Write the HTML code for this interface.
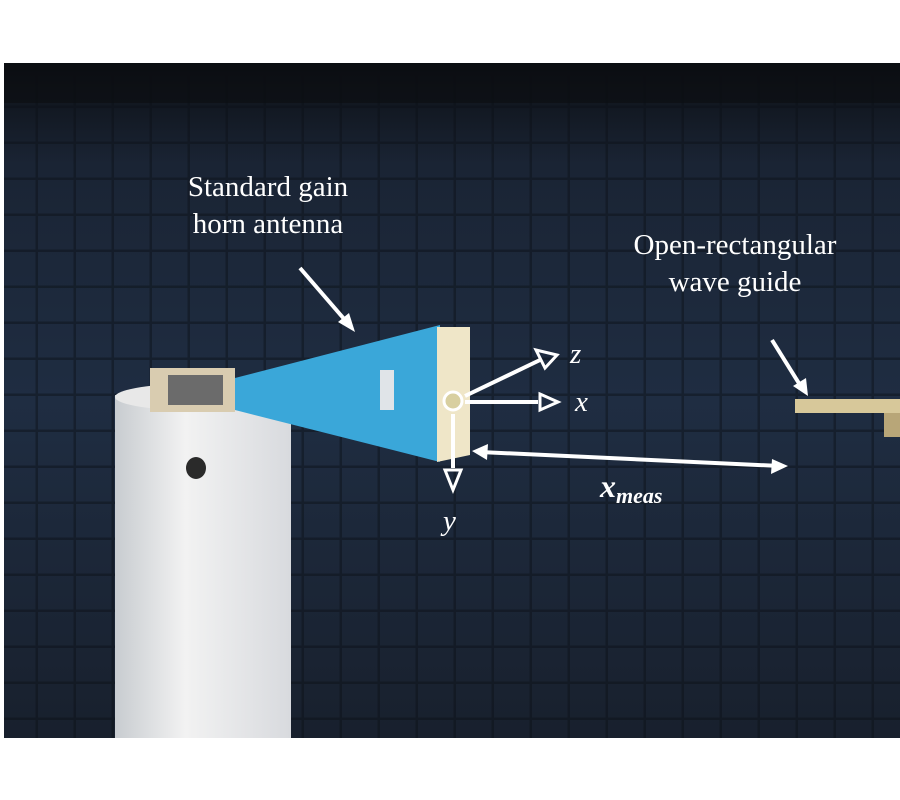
<!DOCTYPE html>
<html><head><style>body{margin:0;background:#fff}svg{display:block}</style></head><body>
<svg width="900" height="800" viewBox="0 0 900 800" xmlns="http://www.w3.org/2000/svg">
<defs>
<linearGradient id="bg" x1="0" y1="0" x2="0" y2="1">
<stop offset="0" stop-color="#0c0f14"/><stop offset="0.15" stop-color="#1a2434"/><stop offset="0.5" stop-color="#1f2d42"/><stop offset="1" stop-color="#18202d"/></linearGradient>
<pattern id="grid" width="38" height="36" patternUnits="userSpaceOnUse">
<rect width="38" height="36" fill="none"/><path d="M0 35 H38 M37 0 V36" stroke="#0a0e15" stroke-width="3" opacity="0.45"/></pattern>
<linearGradient id="cyl" x1="0" x2="1"><stop offset="0" stop-color="#c8ccd0"/><stop offset="0.4" stop-color="#f2f2f2"/><stop offset="1" stop-color="#d8dade"/></linearGradient>
</defs>
<rect x="4" y="63" width="896" height="675" fill="url(#bg)"/>
<rect x="4" y="63" width="896" height="675" fill="url(#grid)"/>
<rect x="4" y="63" width="896" height="40" fill="#0b0d10" opacity="0.6"/>
<rect x="115" y="395" width="176" height="343" fill="url(#cyl)"/>
<ellipse cx="203" cy="397" rx="88" ry="14" fill="#e8e8e8"/>
<ellipse cx="196" cy="468" rx="10" ry="11" fill="#2a2a2a"/>
<rect x="150" y="368" width="85" height="44" fill="#d9ccb0"/>
<rect x="168" y="375" width="55" height="30" fill="#6b6b6b"/>
<polygon points="235,378 440,325 440,462 235,410" fill="#3aa7d9"/>
<polygon points="437,327 470,327 470,455 437,462" fill="#efe6c8"/>
<rect x="380" y="370" width="14" height="40" fill="#e0e4e8"/>
<rect x="795" y="399" width="105" height="14" fill="#d7c89a"/>
<rect x="884" y="413" width="16" height="24" fill="#b8a678"/>
<g stroke="#fff" stroke-width="4" fill="none">
<line x1="300" y1="268" x2="345" y2="320"/>
<polygon points="338,322 355,332 349,313" fill="#fff" stroke="none"/>
<line x1="772" y1="340" x2="800" y2="385"/>
<polygon points="793,386 808,396 806,378" fill="#fff" stroke="none"/>
<line x1="465" y1="396" x2="540" y2="360"/>
<polygon points="536,350 557,355 545,368" fill="none" stroke-width="3"/>
<line x1="465" y1="402" x2="538" y2="402"/>
<polygon points="540,394 558,402 540,410" fill="none" stroke-width="3"/>
<line x1="453" y1="414" x2="453" y2="468"/>
<polygon points="445,470 461,470 453,490" fill="none" stroke-width="3"/>
<line x1="480" y1="452" x2="780" y2="466"/>
<polygon points="472,451 488,444 487,460" fill="#fff" stroke="none"/>
<polygon points="788,466 772,459 771,474" fill="#fff" stroke="none"/>
<circle cx="453" cy="401" r="9" fill="#d8cfa0" stroke-width="3"/>
</g>
<g font-family="Liberation Serif, serif" fill="#fff" font-size="29">
<text x="268" y="196" text-anchor="middle">Standard gain</text>
<text x="268" y="233" text-anchor="middle">horn antenna</text>
<text x="735" y="254" text-anchor="middle">Open-rectangular</text>
<text x="735" y="291" text-anchor="middle">wave guide</text>
<text x="570" y="363" font-style="italic">z</text>
<text x="575" y="411" font-style="italic">x</text>
<text x="443" y="530" font-style="italic">y</text>
<text x="600" y="497" font-style="italic" font-weight="bold" font-size="32">x<tspan font-size="22" dy="6">meas</tspan></text>
</g>
</svg>
</body></html>
